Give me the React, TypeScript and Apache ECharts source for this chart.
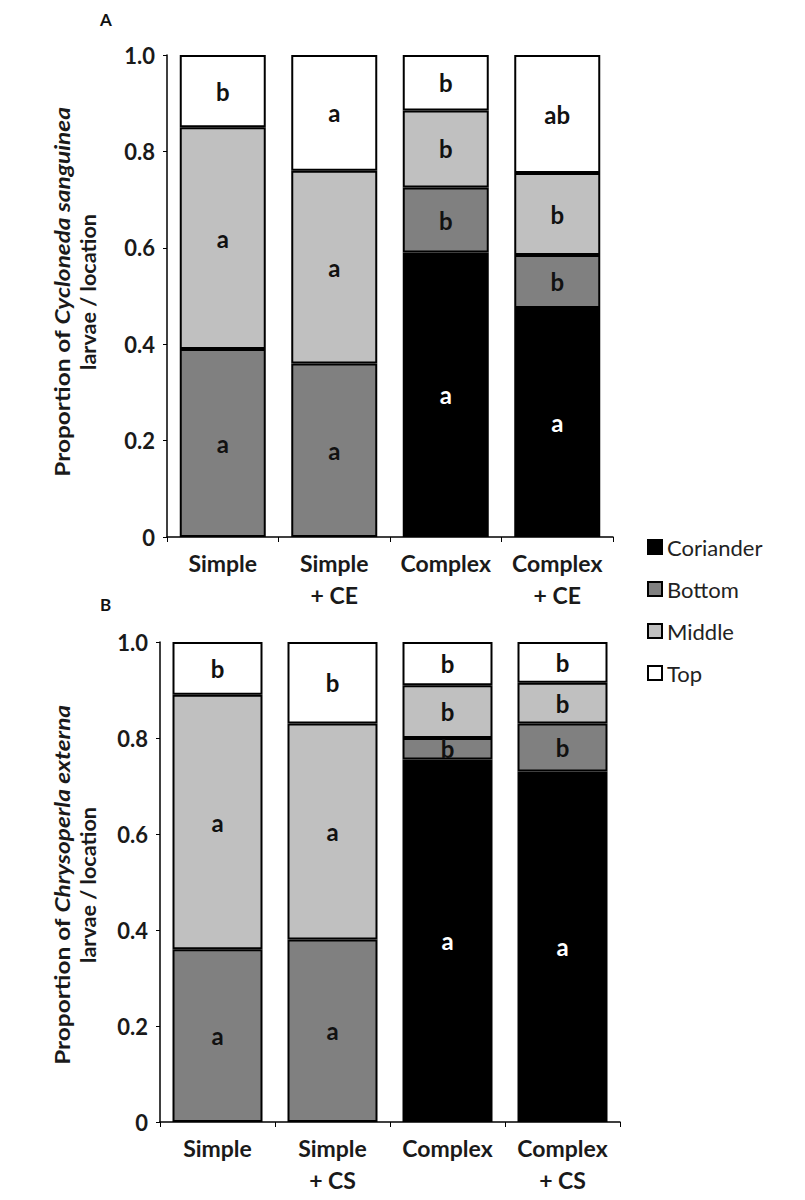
import React, { useEffect, useRef } from "react";
import * as echarts from "echarts";

// Location names (stack order, bottom to top)
const locations = ["Coriander", "Bottom", "Middle", "Top"];
const locationColors = ["#000000", "#808080", "#c0c0c0", "#ffffff"];

// Panel A: Cycloneda sanguinea
const categoriesA = ["Simple", "Simple\n+ CE", "Complex", "Complex\n+ CE"];
const corianderA = [null, null, 0.59, 0.475];
const bottomA = [0.39, 0.36, 0.135, 0.11];
const middleA = [0.46, 0.4, 0.16, 0.17];
const topA = [0.15, 0.24, 0.115, 0.245];
const lettersCorianderA = ["", "", "a", "a"];
const lettersBottomA = ["a", "a", "b", "b"];
const lettersMiddleA = ["a", "a", "b", "b"];
const lettersTopA = ["b", "a", "b", "ab"];

// Panel B: Chrysoperla externa
const categoriesB = ["Simple", "Simple\n+ CS", "Complex", "Complex\n+ CS"];
const corianderB = [null, null, 0.755, 0.73];
const bottomB = [0.36, 0.38, 0.045, 0.1];
const middleB = [0.53, 0.45, 0.11, 0.085];
const topB = [0.11, 0.17, 0.09, 0.085];
const lettersCorianderB = ["", "", "a", "a"];
const lettersBottomB = ["a", "a", "b", "b"];
const lettersMiddleB = ["a", "a", "b", "b"];
const lettersTopB = ["b", "b", "b", "b"];

// Y-axis ticks
const yTicks = { min: 0, max: 1, interval: 0.2 };

const FONT = "Lato";
const INK = "#1a1a1a";

function buildSeries(
  panel: number,
  values: (number | null)[][],
  letters: string[][],
  barWidth: number
) {
  return values.map((vals, i) => ({
    name: locations[i],
    type: "bar",
    stack: "panel" + panel,
    xAxisIndex: panel,
    yAxisIndex: panel,
    barWidth,
    data: vals.map((v) => (v === null ? "-" : v)),
    itemStyle: {
      color: locationColors[i],
      borderColor: "#000",
      borderWidth: 2,
    },
    label: {
      show: true,
      position: "inside",
      fontFamily: FONT,
      fontWeight: "bold",
      fontSize: 24,
      color: i === 0 ? "#ffffff" : "#111111",
      formatter: (p: any) => letters[i][p.dataIndex] || "",
    },
  }));
}

function xAxis(gridIndex: number, data: string[]) {
  return {
    type: "category",
    gridIndex,
    data,
    axisLine: { lineStyle: { color: "#000", width: 1.5 } },
    axisTick: { show: true, length: 5, lineStyle: { color: "#000" } },
    axisLabel: {
      fontFamily: FONT,
      fontWeight: "bold",
      fontSize: 23,
      color: INK,
      lineHeight: 32,
      margin: 10,
      interval: 0,
    },
  };
}

function yAxis(gridIndex: number) {
  return {
    type: "value",
    gridIndex,
    min: yTicks.min,
    max: yTicks.max,
    interval: yTicks.interval,
    splitLine: { show: false },
    axisLine: { show: true, lineStyle: { color: "#000", width: 1.5 } },
    axisTick: { show: true, length: 4, lineStyle: { color: "#000" } },
    axisLabel: {
      fontFamily: FONT,
      fontWeight: "bold",
      fontSize: 22,
      color: INK,
      margin: 12,
      formatter: (v: number) => (v === 0 ? "0" : v.toFixed(1)),
    },
  };
}

function axisTitle(species: string, cy: number) {
  const base = {
    fontFamily: FONT,
    fontWeight: "bold",
    fontSize: 20,
    fill: INK,
  };
  return [
    {
      type: "text",
      x: 62,
      y: cy,
      rotation: Math.PI / 2,
      scaleX: 1.22,
      style: {
        text: "{n|Proportion of }{i|" + species + "}",
        align: "center",
        verticalAlign: "middle",
        ...base,
        rich: {
          n: { ...base, color: INK },
          i: { ...base, fontStyle: "italic", color: INK },
        },
      },
    },
    {
      type: "text",
      x: 88,
      y: cy,
      rotation: Math.PI / 2,
      scaleX: 1.08,
      style: {
        text: "larvae / location",
        align: "center",
        verticalAlign: "middle",
        ...base,
      },
    },
  ];
}

export default function App() {
  const ref = useRef<HTMLDivElement>(null);

  useEffect(() => {
    if (!ref.current) return;
    const chart = echarts.init(ref.current, null, { renderer: "svg" });
    chart.setOption({
      animation: false,
      backgroundColor: "#ffffff",
      grid: [
        { left: 167, top: 55, width: 446, height: 482 },
        { left: 160, top: 642, width: 460, height: 480 },
      ],
      xAxis: [xAxis(0, categoriesA), xAxis(1, categoriesB)],
      yAxis: [yAxis(0), yAxis(1)],
      legend: {
        data: locations,
        orient: "vertical",
        left: 647,
        top: 536,
        itemWidth: 14,
        itemHeight: 14,
        itemGap: 20,
        padding: 0,
        selectedMode: false,
        icon: "rect",
        itemStyle: { borderWidth: 2 },
        textStyle: { fontFamily: FONT, fontSize: 22, color: "#222" },
      },
      series: [
        ...buildSeries(
          0,
          [corianderA, bottomA, middleA, topA],
          [lettersCorianderA, lettersBottomA, lettersMiddleA, lettersTopA],
          86
        ),
        ...buildSeries(
          1,
          [corianderB, bottomB, middleB, topB],
          [lettersCorianderB, lettersBottomB, lettersMiddleB, lettersTopB],
          90
        ),
      ],
      graphic: [
        {
          type: "text",
          x: 100,
          y: 11,
          style: { text: "A", fontFamily: FONT, fontWeight: "bold", fontSize: 17, fill: "#111" },
        },
        {
          type: "text",
          x: 100,
          y: 596,
          style: { text: "B", fontFamily: FONT, fontWeight: "bold", fontSize: 17, fill: "#111" },
        },
        ...axisTitle("Cycloneda sanguinea", 292),
        ...axisTitle("Chrysoperla externa", 885),
      ],
    });
    return () => chart.dispose();
  }, []);

  return (
    <div
      ref={ref}
      style={{ position: "absolute", left: 0, top: 0, width: 805, height: 1200 }}
    />
  );
}
